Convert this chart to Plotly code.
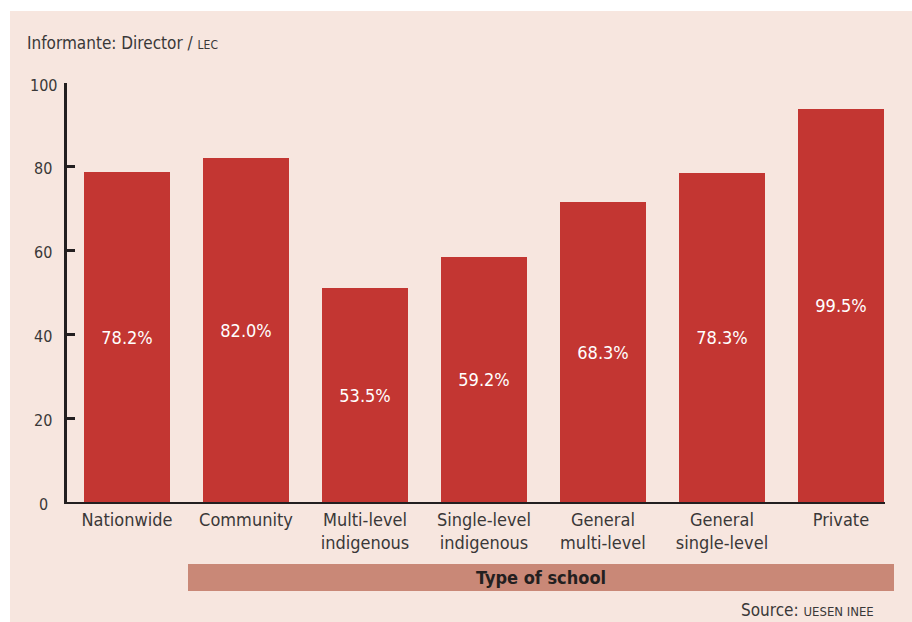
import plotly.graph_objects as go

categories = ["Nationwide", "Community", "Multi-level<br>indigenous", "Single-level<br>indigenous",
              "General<br>multi-level", "General<br>single-level", "Private"]
bar_heights = [78.8, 82.1, 51.1, 58.5, 71.6, 78.5, 93.8]
value_labels = ["78.2%", "82.0%", "53.5%", "59.2%", "68.3%", "78.3%", "99.5%"]
y_ticks = [0, 20, 40, 60, 80, 100]

FONT = "Liberation Sans Narrow, DejaVu Sans Condensed, Roboto Condensed, Arial Narrow, sans-serif"
PANEL = "#f7e6df"
BAR = "#c33632"
BANNER = "#c98877"
DARK = "#231f20"
TEXT = "#3a3838"

W, H = 912, 622
L, R, T, B = 67, 27, 83, 120
pw, ph = W - L - R, H - T - B

def px(x):
    return (x - L) / pw

def py(y):
    return (H - B - y) / ph

fig = go.Figure()
fig.add_trace(go.Bar(
    x=list(range(len(categories))), y=bar_heights, width=0.723,
    marker=dict(color=BAR, line=dict(width=0)),
    text=value_labels, textposition="inside", insidetextanchor="middle",
    textangle=0, textfont=dict(color="white", size=18, family=FONT),
    hoverinfo="skip",
))

annotations = []
for v in y_ticks:
    annotations.append(dict(x=px(43), xref="paper", y=v, yref="y", text=str(v),
                            showarrow=False, xanchor="center", yanchor="middle", yshift=-2,
                            font=dict(size=16, color=TEXT, family=FONT)))
annotations.append(dict(x=px(25), xref="paper", y=py(43), yref="paper",
                        text="Informante: Director / <span style='font-size:12px'>LEC</span>",
                        showarrow=False, xanchor="left", yanchor="middle",
                        font=dict(size=17, color=TEXT, family=FONT)))
annotations.append(dict(x=px(876), xref="paper", y=py(610), yref="paper",
                        text="Source: <span style='font-size:13px'>UESEN INEE</span>",
                        showarrow=False, xanchor="right", yanchor="middle",
                        font=dict(size=17, color=TEXT, family=FONT)))
annotations.append(dict(x=(px(188) + px(894)) / 2, xref="paper", y=py(577.5), yref="paper",
                        text="<b>Type of school</b>", showarrow=False,
                        xanchor="center", yanchor="middle",
                        font=dict(size=18, color=DARK, family=FONT)))

shapes = [
    dict(type="rect", xref="paper", yref="paper", x0=px(10), x1=px(W + 5), y0=py(H + 5), y1=py(11),
         fillcolor=PANEL, line=dict(width=0), layer="below"),
    dict(type="rect", xref="paper", yref="paper", x0=px(188), x1=px(894), y0=py(591), y1=py(564),
         fillcolor=BANNER, line=dict(width=0), layer="below"),
]

fig.update_layout(
    width=W, height=H,
    margin=dict(l=L, r=R, t=T, b=B),
    paper_bgcolor="white", plot_bgcolor="rgba(0,0,0,0)",
    showlegend=False, bargap=0,
    font=dict(family=FONT, color=TEXT),
    xaxis=dict(
        range=[-0.504, 6.37], tickmode="array", tickvals=list(range(len(categories))),
        ticktext=categories, tickson="boundaries", ticks="inside", ticklen=10, tickwidth=1.5,
        tickcolor=DARK, showline=True, linecolor=DARK, linewidth=2, showgrid=False,
        zeroline=False, layer="below traces", tickfont=dict(size=18, color=TEXT, family=FONT),
        fixedrange=True,
    ),
    yaxis=dict(
        range=[0, 100], tickvals=y_ticks, showticklabels=False, ticks="inside", ticklen=8,
        tickwidth=2.5, tickcolor=DARK, showline=True, linecolor=DARK, linewidth=3,
        showgrid=False, zeroline=False, layer="below traces", fixedrange=True,
    ),
    annotations=annotations, shapes=shapes,
)

fig.write_html("out.html", config={"displayModeBar": False},
               post_script="document.body.style.margin='0';document.body.style.overflow='hidden';")
